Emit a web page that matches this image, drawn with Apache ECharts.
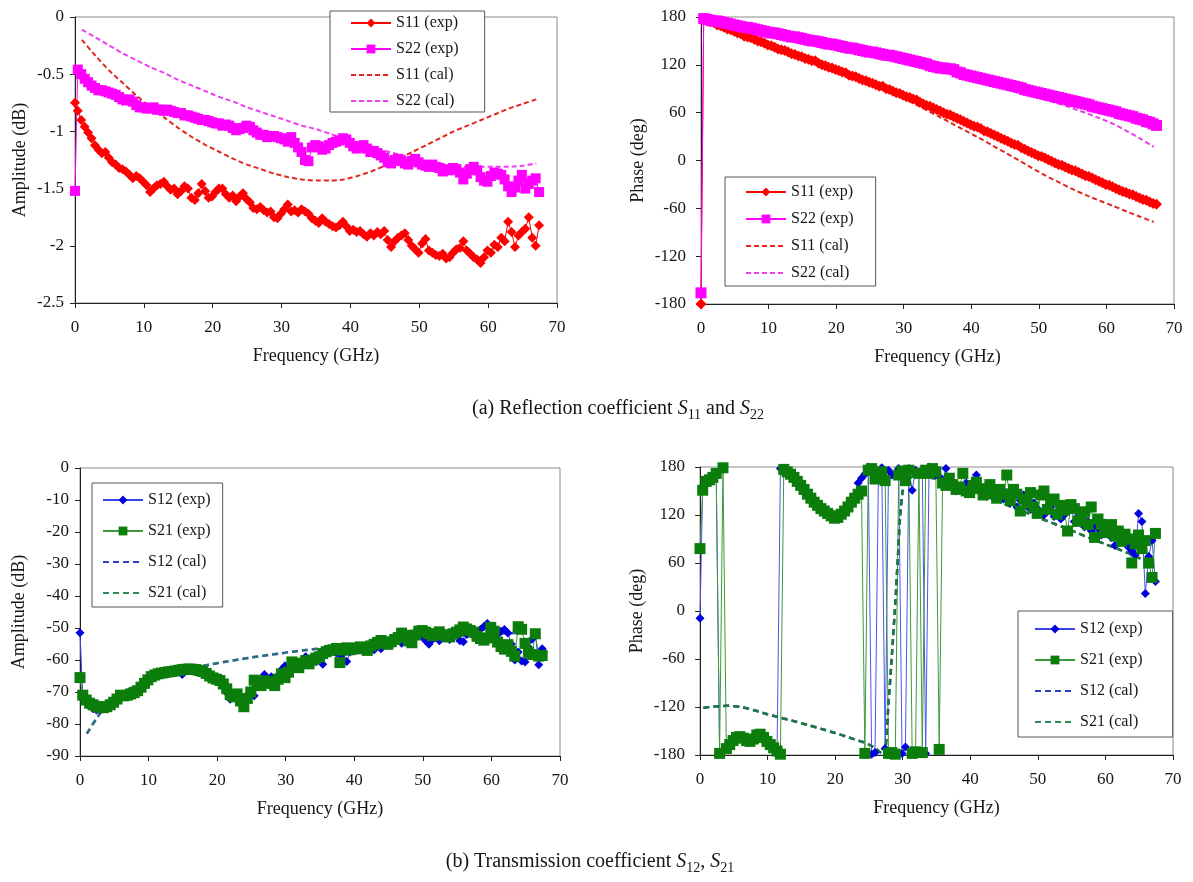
<!DOCTYPE html>
<html>
<head>
<meta charset="utf-8">
<title>S-parameters: measured vs. calculated</title>
<script src="https://cdn.jsdelivr.net/npm/echarts@6/dist/echarts.min.js"></script>
<style>
  html, body { margin: 0; padding: 0; background: #ffffff; }
  #chart { width: 1193px; height: 882px; }
</style>
</head>
<body>
<div id="chart"></div>
<script>
// ---- frequency sweep of the measurements (GHz) ----
const freqExp = [0,
  0.4, 0.9, 1.4, 1.9, 2.4, 2.9, 3.4, 3.9, 4.4, 4.9,
  5.4, 5.9, 6.4, 6.9, 7.4, 7.9, 8.4, 8.9, 9.4, 9.9,
  10.4, 10.9, 11.4, 11.9, 12.4, 12.9, 13.4, 13.9, 14.4, 14.9,
  15.4, 15.9, 16.4, 16.9, 17.4, 17.9, 18.4, 18.9, 19.4, 19.9,
  20.4, 20.9, 21.4, 21.9, 22.4, 22.9, 23.4, 23.9, 24.4, 24.9,
  25.4, 25.9, 26.4, 26.9, 27.4, 27.9, 28.4, 28.9, 29.4, 29.9,
  30.4, 30.9, 31.4, 31.9, 32.4, 32.9, 33.4, 33.9, 34.4, 34.9,
  35.4, 35.9, 36.4, 36.9, 37.4, 37.9, 38.4, 38.9, 39.4, 39.9,
  40.4, 40.9, 41.4, 41.9, 42.4, 42.9, 43.4, 43.9, 44.4, 44.9,
  45.4, 45.9, 46.4, 46.9, 47.4, 47.9, 48.4, 48.9, 49.4, 49.9,
  50.4, 50.9, 51.4, 51.9, 52.4, 52.9, 53.4, 53.9, 54.4, 54.9,
  55.4, 55.9, 56.4, 56.9, 57.4, 57.9, 58.4, 58.9, 59.4, 59.9,
  60.4, 60.9, 61.4, 61.9, 62.4, 62.9, 63.4, 63.9, 64.4, 64.9,
  65.4, 65.9, 66.4, 66.9, 67.4];

// frequency points of the calculated curves (GHz)
const freqCal = [1, 3, 5, 7, 9, 11, 13, 15, 17, 19, 21, 23, 25, 27, 29, 31, 33,
  35, 37, 39, 41, 43, 45, 47, 49, 51, 53, 55, 57, 59, 61, 63, 65, 67];
const freqCalTrans = [0.5, 2, 4, 6, 8, 10, 12, 14, 16, 18, 20, 22, 24, 25, 26, 27.2,
  27.9, 28.4, 28.9, 29.3, 29.6, 30, 30.5, 31, 32, 34, 36, 38, 40, 42, 44, 46, 48,
  50, 52, 54, 56, 58, 60, 62, 64, 66, 67];

// ---- (a) reflection: amplitude (dB) ----
const s11AmpExp = [-0.75,
  -0.82, -0.90, -0.96, -1.01, -1.06, -1.12, -1.16, -1.19, -1.18, -1.23,
  -1.27, -1.29, -1.32, -1.33, -1.35, -1.38, -1.41, -1.39, -1.41, -1.44,
  -1.47, -1.53, -1.50, -1.47, -1.46, -1.44, -1.48, -1.51, -1.50, -1.55,
  -1.52, -1.48, -1.50, -1.58, -1.60, -1.54, -1.46, -1.52, -1.58, -1.57,
  -1.53, -1.50, -1.50, -1.55, -1.58, -1.56, -1.61, -1.57, -1.54, -1.59,
  -1.62, -1.67, -1.68, -1.66, -1.69, -1.71, -1.70, -1.75, -1.76, -1.72,
  -1.68, -1.64, -1.70, -1.69, -1.71, -1.68, -1.70, -1.72, -1.76, -1.78,
  -1.80, -1.76, -1.79, -1.81, -1.83, -1.84, -1.82, -1.79, -1.83, -1.87,
  -1.86, -1.88, -1.87, -1.90, -1.92, -1.89, -1.91, -1.88, -1.90, -1.87,
  -1.95, -2.01, -1.96, -1.93, -1.91, -1.89, -1.95, -2.00, -2.03, -2.06,
  -1.98, -1.94, -2.04, -2.06, -2.08, -2.09, -2.07, -2.11, -2.10, -2.06,
  -2.03, -2.02, -1.96, -2.04, -2.07, -2.10, -2.12, -2.15, -2.10, -2.04,
  -2.06, -1.99, -2.01, -1.93, -1.96, -1.79, -1.88, -2.01, -1.91, -1.88,
  -1.85, -1.75, -1.93, -2.00, -1.82];
const s22AmpExp = [-1.52,
  -0.46, -0.50, -0.54, -0.57, -0.60, -0.62, -0.64, -0.64, -0.65, -0.66,
  -0.67, -0.68, -0.70, -0.72, -0.73, -0.72, -0.74, -0.77, -0.79, -0.79,
  -0.80, -0.80, -0.79, -0.81, -0.81, -0.82, -0.81, -0.82, -0.83, -0.84,
  -0.84, -0.86, -0.86, -0.87, -0.88, -0.89, -0.90, -0.90, -0.91, -0.92,
  -0.93, -0.93, -0.95, -0.94, -0.95, -0.97, -0.99, -0.98, -0.97, -0.95,
  -0.96, -0.99, -1.01, -1.03, -1.03, -1.05, -1.04, -1.04, -1.05, -1.06,
  -1.07, -1.09, -1.05, -1.10, -1.14, -1.18, -1.25, -1.26, -1.14, -1.12,
  -1.13, -1.16, -1.15, -1.12, -1.10, -1.09, -1.08, -1.06, -1.07, -1.10,
  -1.13, -1.15, -1.13, -1.12, -1.15, -1.18, -1.17, -1.19, -1.21, -1.23,
  -1.27, -1.28, -1.25, -1.24, -1.26, -1.28, -1.29, -1.26, -1.24, -1.27,
  -1.29, -1.30, -1.31, -1.29, -1.31, -1.32, -1.35, -1.33, -1.34, -1.32,
  -1.33, -1.36, -1.42, -1.37, -1.33, -1.31, -1.34, -1.40, -1.43, -1.44,
  -1.39, -1.36, -1.37, -1.38, -1.42, -1.48, -1.53, -1.49, -1.43, -1.38,
  -1.50, -1.46, -1.43, -1.41, -1.53];
const s11AmpCal = [-0.20, -0.34, -0.47, -0.58, -0.69, -0.79, -0.88, -0.97, -1.05,
  -1.12, -1.18, -1.24, -1.29, -1.33, -1.37, -1.40, -1.42, -1.43, -1.43, -1.42,
  -1.39, -1.35, -1.30, -1.24, -1.18, -1.12, -1.06, -1.00, -0.95, -0.90, -0.85,
  -0.80, -0.76, -0.72];
const s22AmpCal = [-0.11, -0.18, -0.25, -0.32, -0.38, -0.44, -0.49, -0.55, -0.60,
  -0.65, -0.70, -0.74, -0.79, -0.83, -0.87, -0.91, -0.95, -0.98, -1.02, -1.06,
  -1.10, -1.13, -1.17, -1.20, -1.23, -1.26, -1.28, -1.30, -1.31, -1.31, -1.31,
  -1.31, -1.30, -1.28];

// ---- (a) reflection: phase (deg) ----
const s11PhExp = [-180,
  177, 175, 174, 173, 170, 169, 167, 165, 164, 162,
  160, 159, 156, 155, 154, 152, 150, 149, 147, 145,
  144, 142, 140, 139, 138, 136, 134, 133, 131, 130,
  128, 127, 125, 125, 122, 120, 119, 117, 116, 114,
  113, 111, 110, 107, 106, 105, 103, 101, 100, 98,
  97, 95, 93, 93, 90, 89, 87, 85, 84, 82,
  80, 79, 77, 76, 73, 71, 69, 68, 66, 64,
  62, 60, 58, 57, 55, 53, 51, 49, 47, 45,
  43, 42, 40, 37, 36, 34, 32, 30, 28, 26,
  24, 22, 20, 19, 16, 14, 12, 10, 8, 6,
  5, 3, 1, -1, -3, -5, -6, -8, -10, -12,
  -13, -15, -17, -19, -20, -22, -24, -26, -28, -30,
  -31, -33, -35, -37, -39, -40, -42, -43, -45, -47,
  -49, -50, -52, -54, -55];
const s22PhExp = [-166,
  178, 177, 176, 175, 175, 174, 173, 172, 171, 170,
  169, 168, 167, 167, 166, 165, 164, 163, 162, 161,
  160, 160, 159, 158, 157, 156, 155, 155, 154, 153,
  152, 151, 150, 150, 149, 148, 147, 146, 146, 145,
  144, 143, 142, 141, 141, 140, 139, 138, 137, 136,
  136, 135, 134, 133, 132, 132, 131, 130, 129, 128,
  127, 126, 125, 124, 123, 122, 121, 119, 118, 117,
  116, 116, 115, 115, 114, 111, 110, 108, 107, 106,
  105, 104, 103, 102, 101, 100, 99, 98, 97, 96,
  95, 94, 93, 92, 91, 89, 88, 87, 86, 85,
  84, 83, 82, 81, 80, 79, 78, 77, 76, 75,
  74, 73, 72, 71, 70, 68, 67, 66, 65, 64,
  63, 62, 61, 59, 58, 57, 56, 55, 53, 52,
  51, 49, 48, 46, 44];
const s11PhCal = [175, 169, 162.5, 156, 149.5, 143, 136.5, 130, 123.5, 117, 110.5,
  104, 97, 89.5, 81.5, 73.5, 65, 56, 47, 38, 29, 19.5, 10, 0.5, -9.5, -19, -27.5,
  -36, -43.5, -50.5, -57, -64, -70.5, -77];
const s22PhCal = [177, 173.5, 170, 166.5, 163, 159.5, 156, 152.5, 149, 145.5, 142,
  138.5, 135, 131, 127, 123, 119, 115, 110.5, 105.5, 100.5, 95.5, 90.5, 85.5, 81,
  76, 71, 65.5, 59.5, 53, 46, 37, 27.5, 17];

// ---- (b) transmission: amplitude (dB) ----
const s12AmpExp = [-51.5,
  -71.0, -73.0, -74.2, -75.2, -75.6, -75.5, -75.3, -74.9, -74.2, -73.4,
  -72.5, -71.8, -71.5, -71.2, -70.8, -70.3, -69.8, -68.8, -67.5, -66.4,
  -65.5, -64.9, -64.5, -64.3, -64.1, -63.9, -63.9, -63.7, -63.6, -64.5,
  -63.4, -63.3, -63.4, -63.5, -63.7, -64.0, -64.6, -65.5, -66.2, -66.5,
  -67.2, -68.4, -70.2, -72.3, -71.8, -71.0, -72.4, -73.2, -71.0, -69.5,
  -71.2, -68.3, -66.5, -64.5, -66.0, -65.2, -66.6, -64.8, -63.0, -61.8,
  -62.6, -61.0, -60.8, -61.6, -60.4, -59.0, -59.8, -59.2, -60.5, -58.6,
  -61.3, -58.2, -57.0, -56.8, -57.8, -59.6, -57.9, -60.5, -57.5, -56.5,
  -57.0, -56.0, -56.4, -57.0, -56.2, -56.8, -55.5, -56.5, -55.0, -54.4,
  -55.2, -53.9, -53.0, -54.8, -53.0, -53.2, -53.8, -52.8, -52.0, -52.6,
  -54.0, -55.1, -53.6, -53.0, -54.0, -53.2, -52.5, -53.6, -53.0, -52.2,
  -54.0, -54.3, -52.0, -51.6, -52.4, -51.5, -50.5, -49.5, -48.6, -51.5,
  -53.0, -52.0, -51.0, -50.5, -51.6, -55.0, -60.0, -57.5, -60.3, -60.6,
  -56.0, -53.5, -51.8, -61.5, -56.5];
const s21AmpExp = [-65.5,
  -71.0, -72.5, -73.5, -74.0, -74.5, -74.8, -74.9, -74.6, -74.0, -73.2,
  -72.2, -71.0, -71.2, -71.0, -70.6, -70.2, -69.6, -68.5, -67.3, -66.2,
  -65.2, -64.7, -64.3, -64.1, -63.9, -63.7, -63.6, -63.4, -63.2, -63.0,
  -62.9, -62.8, -62.9, -63.0, -63.3, -63.6, -64.2, -65.0, -65.6, -66.0,
  -66.4, -67.5, -69.0, -70.8, -71.5, -70.6, -72.8, -74.6, -72.0, -70.0,
  -66.3, -67.5, -68.0, -66.5, -67.3, -66.8, -68.0, -66.0, -64.3, -65.5,
  -63.8, -60.6, -61.5, -62.4, -61.0, -60.2, -61.2, -60.0, -59.4, -59.0,
  -58.0, -57.4, -57.0, -56.8, -56.4, -60.8, -56.9, -56.2, -56.8, -56.4,
  -56.2, -55.9, -56.5, -57.0, -55.6, -55.1, -54.5, -53.9, -54.8, -55.1,
  -54.3, -53.6, -53.0, -51.6, -52.3, -54.0, -54.6, -52.2, -51.0, -50.8,
  -51.3, -51.8, -52.4, -51.9, -51.2, -52.1, -52.6, -52.8, -51.8, -51.3,
  -50.6, -49.7, -50.3, -50.8, -51.3, -52.6, -53.3, -53.8, -53.1, -49.8,
  -51.0, -54.4, -55.8, -56.6, -55.2, -57.3, -58.8, -49.6, -50.4, -54.8,
  -57.6, -58.3, -51.8, -58.8, -58.6];
const s12AmpCal = [-83.0, -76.5, -72.3, -69.3, -67.2, -65.6, -64.2, -63.1, -62.2,
  -61.4, -60.6, -59.9, -59.2, -58.6, -58.0, -57.4, -56.9, -56.4, -55.9, -55.4,
  -55.0, -54.6, -54.2, -53.8, -53.4, -53.0, -52.7, -52.4, -52.1, -51.9, -51.7,
  -51.6, -51.5, -51.5];
const s21AmpCal = [-83.0, -76.5, -72.3, -69.3, -67.2, -65.6, -64.2, -63.1, -62.2,
  -61.4, -60.6, -59.9, -59.2, -58.6, -58.0, -57.4, -56.9, -56.4, -55.9, -55.4,
  -55.0, -54.6, -54.2, -53.8, -53.4, -53.0, -52.7, -52.4, -52.1, -51.9, -51.7,
  -51.6, -51.5, -51.5];

// ---- (b) transmission: phase (deg) ----
const s12PhExp = [-9,
  155, 163, 165, 168, 173, -179, -174, -170, -166, -161,
  -158, -158, -160, -162, -162, -159, -156, -155, -159, -164,
  -168, -172, -179, 178, 176, 173, 170, 167, 162, 157,
  151, 145, 140, 135, 131, 127, 124, 121, 118, 117,
  119, 122, 126, 131, 137, 142, 160, 166, 171, 180,
  -179, -177, 165, 179, -172, 176, 170, 172, 178, -178,
  -170, 178, 151, 176, 172, 175, -178, 180, 175, 170,
  168, 163, 178, 160, 157, 150, 156, 152, 160, 148,
  152, 170, 155, 148, 143, 155, 150, 145, 152, 140,
  148, 135, 143, 130, 138, 145, 132, 127, 135, 128,
  124, 120, 127, 130, 118, 124, 115, 120, 125, 130,
  112, 118, 122, 105, 112, 100, 108, 103, 95, 110,
  100, 92, 82, 97, 90, 86, 80, 75, 70, 122,
  112, 22, 68, 88, 37];
const s21PhExp = [78,
  151, 162, 164, 167, 172, -178, 179, -172, -167, -162,
  -158, -157, -159, -162, -163, -160, -155, -154, -158, -163,
  -167, -171, -175, -179, 177, 174, 171, 167, 162, 157,
  152, 146, 141, 136, 132, 128, 125, 122, 119, 116,
  117, 121, 125, 130, 136, 141, 146, 150, -178, 176,
  178, 165, 170, 174, 163, -178, -177, -179, 170, 175,
  163, 176, -178, -176, 172, -177, 176, 172, 178, 174,
  -173, 160, 157, 166, 158, 152, 155, 172, 150, 148,
  157, 161, 153, 145, 150, 158, 147, 141, 152, 146,
  170, 138, 152, 146, 125, 140, 135, 148, 130, 122,
  145, 150, 127, 138, 140, 121, 132, 126, 100, 133,
  128, 112, 118, 124, 108, 130, 92, 115, 108, 98,
  102, 108, 94, 100, 87, 96, 90, 60, 84, 95,
  78, 88, 60, 42, 97];
const s12PhCal = [-121, -119.5, -118.5, -120, -124, -129, -133.5, -138, -142.5,
  -147.5, -152.5, -158, -163.5, -167, -172, -180, -115, -55, 10, 70, 116, 150,
  162, 166, 169, 167, 163, 158, 151.5, 144.5, 137.5, 130.5, 124, 117, 110.5, 104,
  97, 90, 83.5, 77, 70, 62, 57];
const s21PhCal = [-121, -119.5, -118.5, -120, -124, -129, -133.5, -138, -142.5,
  -147.5, -152.5, -158, -163.5, -167, -172, -180, -115, -55, 10, 70, 116, 150,
  162, 166, 169, 167, 163, 158, 151.5, 144.5, 137.5, 130.5, 124, 117, 110.5, 104,
  97, 90, 83.5, 77, 70, 62, 57];

// ---- styling ----
const FONT = "'Liberation Serif', 'Times New Roman', serif";
const INK = '#161616';
const RED = '#ff0000', MAGENTA = '#ff00ff', BLUE = '#0000e0', GREEN = '#0b7d0b';

function pairs(xs, ys) { return xs.map((x, i) => [x, ys[i]]); }

function expSeries(name, idx, ys, color, lineColor, symbol, size) {
  return {
    name, type: 'line', xAxisIndex: idx, yAxisIndex: idx,
    data: pairs(freqExp, ys), symbol, symbolSize: size, showSymbol: true,
    clip: false, animation: false,
    itemStyle: { color, borderWidth: 0 },
    lineStyle: { color: lineColor, width: 1 }
  };
}
function calSeries(name, idx, xs, ys, color, width, dash, opacity) {
  return {
    name, type: 'line', xAxisIndex: idx, yAxisIndex: idx,
    data: pairs(xs, ys), symbol: 'none', smooth: 0.25, clip: false, animation: false,
    itemStyle: { color },
    lineStyle: { color, width, type: dash, opacity: opacity == null ? 1 : opacity }
  };
}

const grids = [
  { left: 75, top: 17, width: 482, height: 286 },
  { left: 701, top: 17, width: 473, height: 287 },
  { left: 80, top: 468, width: 480, height: 288 },
  { left: 700, top: 467, width: 473, height: 288 }
].map(g => Object.assign({ show: true, borderColor: '#8a8a8a', borderWidth: 1, backgroundColor: 'transparent' }, g));

const tickFont = { fontFamily: FONT, fontSize: 17, color: INK };
const nameFont = { fontFamily: FONT, fontSize: 18, color: INK };

function xAxis(idx) {
  return {
    gridIndex: idx, type: 'value', min: 0, max: 70, interval: 10,
    name: 'Frequency (GHz)', nameLocation: 'middle', nameGap: 44, nameTextStyle: nameFont,
    axisLine: { onZero: false, lineStyle: { color: '#222', width: 1 } },
    axisTick: { show: true, inside: false, length: 5, lineStyle: { color: '#222' } },
    axisLabel: Object.assign({ margin: 16 }, tickFont),
    splitLine: { show: false }
  };
}
function yAxis(idx, name, min, max, interval, gap, margin) {
  return {
    gridIndex: idx, type: 'value', min, max, interval,
    name, nameLocation: 'middle', nameGap: gap, nameTextStyle: nameFont,
    axisLine: { show: true, onZero: false, lineStyle: { color: '#222', width: 1 } },
    axisTick: { show: true, inside: false, length: 5, lineStyle: { color: '#222' } },
    axisLabel: Object.assign({ margin }, tickFont),
    splitLine: { show: false }
  };
}

function legend(left, top, gap, padding, names) {
  return {
    orient: 'vertical', left, top, itemWidth: 40, itemHeight: 11, itemGap: gap,
    padding, borderColor: '#555', borderWidth: 1, backgroundColor: '#ffffff',
    selectedMode: false,
    textStyle: { fontFamily: FONT, fontSize: 16, color: INK, lineHeight: 20 },
    data: names.map(n => n.indexOf('cal') > -1
      ? { name: n, itemStyle: { opacity: 0 }, lineStyle: { opacity: 1, width: 2 } }
      : { name: n })
  };
}

const captionRich = {
  i: { fontFamily: FONT, fontSize: 20, fontStyle: 'italic', fill: INK },
  s: { fontFamily: FONT, fontSize: 14, lineHeight: 14, verticalAlign: 'bottom', fill: INK }
};

const option = {
  backgroundColor: '#ffffff',
  animation: false,
  grid: grids,
  xAxis: [xAxis(0), xAxis(1), xAxis(2), xAxis(3)],
  yAxis: [
    yAxis(0, 'Amplitude (dB)', -2.5, 0, 0.5, 46, 11),
    yAxis(1, 'Phase (deg)', -180, 180, 60, 54, 15),
    yAxis(2, 'Amplitude (dB)', -90, 0, 10, 52, 11),
    yAxis(3, 'Phase (deg)', -180, 180, 60, 54, 15)
  ],
  legend: [
    legend(330, 11, 6, [2, 26, 1, 20], ['S11 (exp)', 'S22 (exp)', 'S11 (cal)', 'S22 (cal)']),
    legend(725, 177, 7, [5, 22, 3, 20], ['S11 (exp)', 'S22 (exp)', 'S11 (cal)', 'S22 (cal)']),
    legend(92, 483, 11, [7, 12, 4, 10], ['S12 (exp)', 'S21 (exp)', 'S12 (cal)', 'S21 (cal)']),
    legend(1018, 611, 11, [8, 30, 5, 16], ['S12 (exp)', 'S21 (exp)', 'S12 (cal)', 'S21 (cal)'])
  ],
  series: [
    expSeries('S11 (exp)', 0, s11AmpExp, RED, RED, 'diamond', 10),
    expSeries('S22 (exp)', 0, s22AmpExp, MAGENTA, MAGENTA, 'rect', 10),
    calSeries('S11 (cal)', 0, freqCal, s11AmpCal, '#e3261c', 2, [5, 3]),
    calSeries('S22 (cal)', 0, freqCal, s22AmpCal, '#f03cf0', 2, [5, 3]),

    expSeries('S11 (exp)', 1, s11PhExp, RED, RED, 'diamond', 11),
    expSeries('S22 (exp)', 1, s22PhExp, MAGENTA, MAGENTA, 'rect', 11),
    calSeries('S11 (cal)', 1, freqCal, s11PhCal, '#e3261c', 2, [5, 3]),
    calSeries('S22 (cal)', 1, freqCal, s22PhCal, '#f03cf0', 2, [5, 3]),

    expSeries('S12 (exp)', 2, s12AmpExp, BLUE, '#3a44e8', 'diamond', 9),
    expSeries('S21 (exp)', 2, s21AmpExp, GREEN, '#3c9a3c', 'rect', 11),
    calSeries('S12 (cal)', 2, freqCal, s12AmpCal, '#2a3fc4', 2.5, [6, 4]),
    calSeries('S21 (cal)', 2, freqCal, s21AmpCal, '#2e8b57', 2.5, [6, 4], 0.6),

    expSeries('S12 (exp)', 3, s12PhExp, BLUE, '#4a55ee', 'diamond', 9),
    expSeries('S21 (exp)', 3, s21PhExp, GREEN, '#3c9a3c', 'rect', 11),
    calSeries('S12 (cal)', 3, freqCalTrans, s12PhCal, '#2a3fc4', 2.5, [6, 4]),
    calSeries('S21 (cal)', 3, freqCalTrans, s21PhCal, '#1f7a3a', 2.5, [6, 4])
  ],
  graphic: [
    {
      type: 'text', x: 618, y: 409,
      style: {
        text: '(a) Reflection coefficient {i|S}{s|11} and {i|S}{s|22}',
        rich: captionRich, fontFamily: FONT, fontSize: 20, lineHeight: 26, fill: INK,
        align: 'center', verticalAlign: 'middle', textAlign: 'center', textVerticalAlign: 'middle'
      }
    },
    {
      type: 'text', x: 590, y: 862,
      style: {
        text: '(b) Transmission coefficient {i|S}{s|12}, {i|S}{s|21}',
        rich: captionRich, fontFamily: FONT, fontSize: 20, lineHeight: 26, fill: INK,
        align: 'center', verticalAlign: 'middle', textAlign: 'center', textVerticalAlign: 'middle'
      }
    }
  ]
};

const chart = echarts.init(document.getElementById('chart'), null, { renderer: 'canvas' });
chart.setOption(option);
</script>
</body>
</html>
